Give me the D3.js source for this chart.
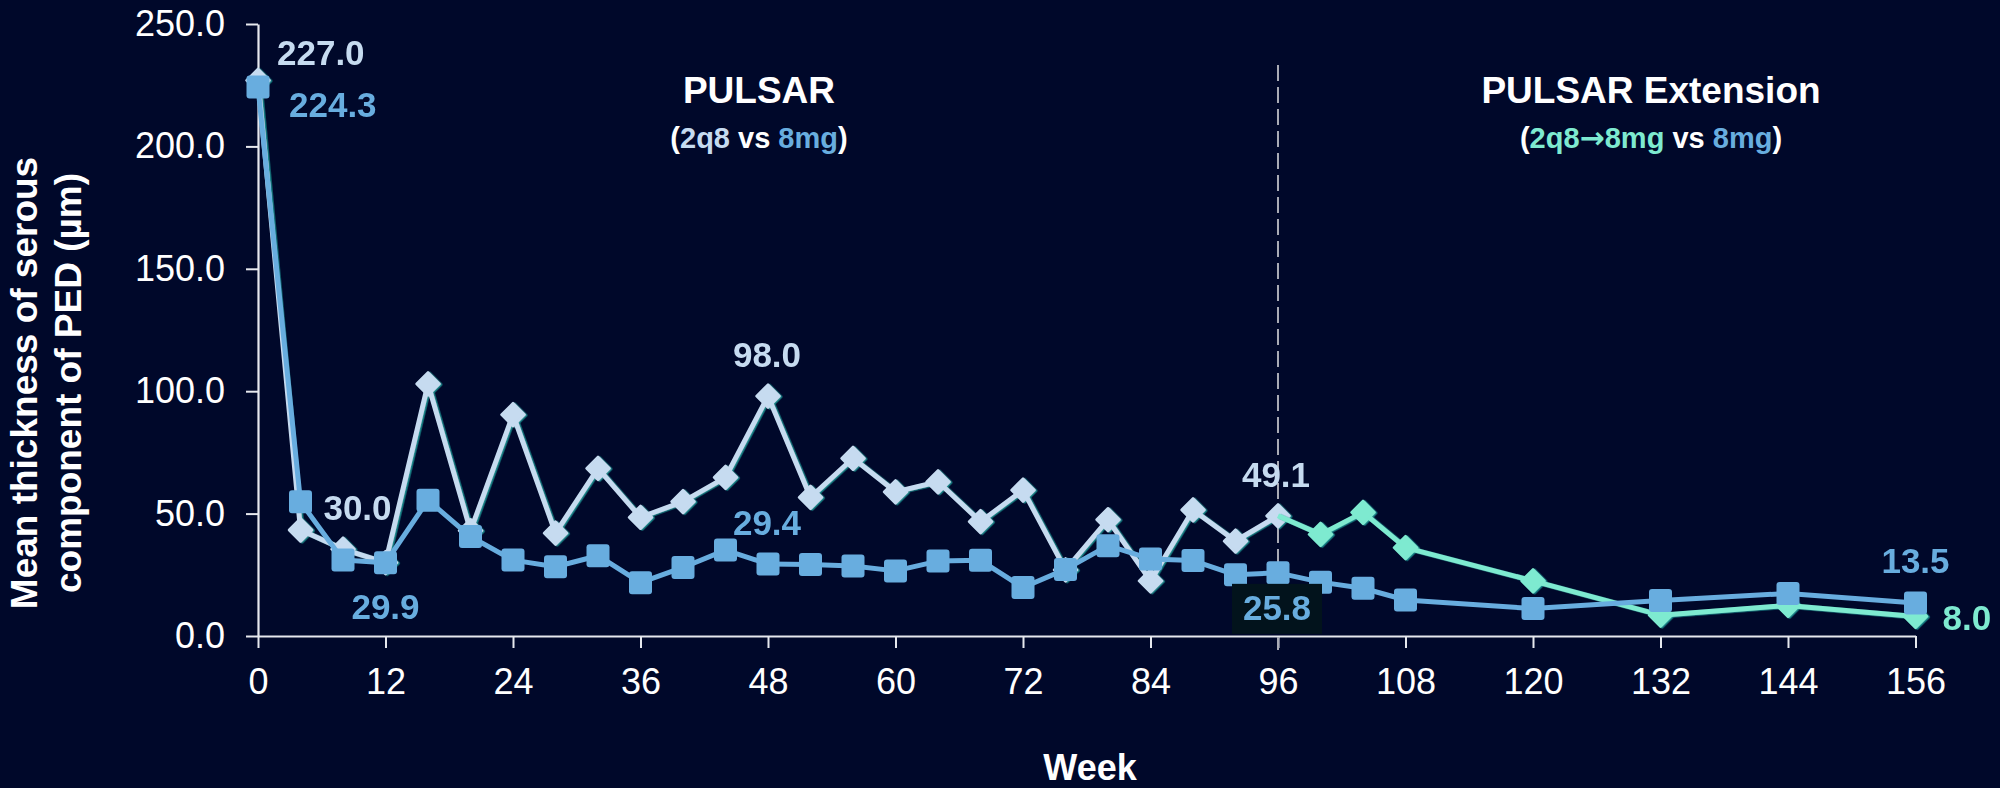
<!DOCTYPE html>
<html>
<head>
<meta charset="utf-8">
<script src="https://cdn.jsdelivr.net/npm/d3@7"></script>
<style>
  html, body { margin: 0; padding: 0; background: #00082a; }
  svg { display: block; font-family: "Liberation Sans", Arial, sans-serif; }
</style>
</head>
<body>
<svg id="chart" width="2000" height="788"></svg>
<script>
// ---------- data ----------
const weeksPulsar = [0,4,8,12,16,20,24,28,32,36,40,44,48,52,56,60,64,68,72,76,80,84,88,92,96];
const q8Values    = [227.0,43.3,35.5,30.0,103.0,43.0,90.4,42.0,68.5,48.5,54.9,64.8,98.0,56.6,72.6,58.9,63.0,46.7,59.6,27.0,47.5,22.5,51.5,38.8,49.1];
const extWeeks    = [96,100,104,108,120,132,144,156];
const extValues   = [49.1,41.5,50.5,36.1,22.5,8.5,12.5,8.0];
const mgWeeks     = [0,4,8,12,16,20,24,28,32,36,40,44,48,52,56,60,64,68,72,76,80,84,88,92,96,100,104,108,120,132,144,156];
const mgValues    = [224.3,54.8,31.0,29.9,55.5,40.6,31.0,28.3,32.8,21.8,28.0,35.1,29.4,29.2,28.6,26.6,30.6,30.9,19.8,27.2,36.9,31.5,30.8,25.0,25.8,22.0,19.5,14.7,11.2,14.5,17.4,13.5];
const xTickValues = [0,12,24,36,48,60,72,84,96,108,120,132,144,156];
const yTickValues = [0,50,100,150,200,250];
const splitWeek   = 96;

// ---------- style ----------
const C = { bg:"#00082a", light:"#c6dbf0", blue:"#68addf", mint:"#7eead0", axis:"#e6e8ee", white:"#ffffff", dash:"#a9abb5" };

const svg = d3.select("#chart");
svg.append("rect").attr("width",2000).attr("height",788).attr("fill",C.bg);

const x = d3.scaleLinear().domain([0,156]).range([258,1915.5]);
const y = d3.scaleLinear().domain([0,250]).range([636,24]);

const defs = svg.append("defs");
const f = defs.append("filter").attr("id","sh").attr("x","-20%").attr("y","-20%").attr("width","140%").attr("height","140%");
f.append("feDropShadow").attr("dx",1.6).attr("dy",0.6).attr("stdDeviation",0.3).attr("flood-color","#1c9f9c").attr("flood-opacity",0.9);

// axes
const yAxis = d3.axisLeft(y).tickValues(yTickValues).tickFormat(d3.format(".1f")).tickSize(12).tickSizeOuter(0).tickPadding(21);
const xAxis = d3.axisBottom(x).tickValues(xTickValues).tickFormat(d3.format("d")).tickSize(12).tickSizeOuter(0).tickPadding(20);

const gy = svg.append("g").attr("transform","translate(258,0)").call(yAxis);
const gx = svg.append("g").attr("transform","translate(0,636)").call(xAxis);
[gy,gx].forEach(g=>{
  g.select(".domain").attr("stroke",C.axis).attr("stroke-width",2.2);
  g.selectAll(".tick line").attr("stroke",C.axis).attr("stroke-width",2);
  g.selectAll(".tick text").attr("fill",C.white).attr("font-size",36).attr("font-family","'Liberation Sans', Arial, sans-serif");
});

// dashed divider
svg.append("line").attr("x1",x(splitWeek)).attr("x2",x(splitWeek)).attr("y1",65).attr("y2",650)
  .attr("stroke",C.dash).attr("stroke-width",2).attr("stroke-dasharray","16,6");

// axis titles
const yt = svg.append("text").attr("transform","translate(37,383) rotate(-90)")
  .attr("text-anchor","middle").attr("font-weight","bold").attr("font-size",37).attr("fill",C.white);
yt.append("tspan").attr("x",0).attr("y",0).text("Mean thickness of serous");
yt.append("tspan").attr("x",0).attr("y",44).text("component of PED (µm)");

svg.append("text").attr("x",1090).attr("y",780).attr("text-anchor","middle")
  .attr("font-weight","bold").attr("font-size",36).attr("fill",C.white).text("Week");

// section titles
function title(cx, main, parts){
  svg.append("text").attr("x",cx).attr("y",103).attr("text-anchor","middle")
    .attr("font-weight","bold").attr("font-size",37).attr("fill",C.white).text(main);
  const t = svg.append("text").attr("x",cx).attr("y",148).attr("text-anchor","middle")
    .attr("font-weight","bold").attr("font-size",29);
  parts.forEach(p=>{
    const s = t.append("tspan").attr("fill",p[1]).text(p[0]);
    if (p[2]) s.attr("font-family","'DejaVu Sans', sans-serif").attr("font-size",30);
  });
}
title(759, "PULSAR", [["(",C.white],["2q8",C.light],[" vs ",C.white],["8mg",C.blue],[")",C.white]]);
title(1651, "PULSAR Extension", [["(",C.white],["2q8",C.mint],["\u2192",C.mint,true],["8mg",C.mint],[" vs ",C.white],["8mg",C.blue],[")",C.white]]);

// series
const line = d3.line().x(d=>x(d[0])).y(d=>y(d[1]));
const q8 = weeksPulsar.map((w,i)=>[w,q8Values[i]]);
const ext = extWeeks.map((w,i)=>[w,extValues[i]]);
const mg = mgWeeks.map((w,i)=>[w,mgValues[i]]);

const diamond = "M0,-11.5L11.5,0L0,11.5L-11.5,0Z";

function drawDiamondSeries(data, color, markerData){
  const g = svg.append("g").attr("filter","url(#sh)");
  g.append("path").datum(data).attr("d",line).attr("fill","none").attr("stroke",color).attr("stroke-width",5).attr("stroke-linejoin","round");
  g.selectAll("path.m").data(markerData).join("path").attr("class","m")
    .attr("transform",d=>`translate(${x(d[0])},${y(d[1])})`).attr("d",diamond)
    .attr("fill",color).attr("stroke",color).attr("stroke-width",2.5).attr("stroke-linejoin","round");
}
drawDiamondSeries(q8, C.light, q8);
drawDiamondSeries(ext, C.mint, ext.slice(1));

const gm = svg.append("g");
gm.append("path").datum(mg).attr("d",line).attr("fill","none").attr("stroke",C.blue).attr("stroke-width",5).attr("stroke-linejoin","round");
gm.selectAll("rect").data(mg).join("rect")
  .attr("x",d=>x(d[0])-11.5).attr("y",d=>y(d[1])-11.5).attr("width",23).attr("height",23).attr("rx",3)
  .attr("fill",C.blue);

// value labels
function label(week, value, color, dx, dy, anchor, box){
  const px = x(week)+dx, py = y(value)+dy;
  if (box) {
    svg.append("rect").attr("x",px-45).attr("y",py-36).attr("width",90).attr("height",50).attr("fill","#02131c");
  }
  svg.append("text").attr("x",px).attr("y",py).attr("text-anchor",anchor)
    .attr("font-weight","bold").attr("font-size",35).attr("fill",color).text(d3.format(".1f")(value));
}
label(0, q8Values[0], C.light, 19, -15, "start");
label(0, mgValues[0], C.blue, 31, 30, "start");
label(12, q8Values[3], C.light, -28, -43, "middle");
label(12, mgValues[3], C.blue, 0, 56, "middle");
label(48, q8Values[12], C.light, -1, -29, "middle");
label(48, mgValues[12], C.blue, -1, -29, "middle");
label(96, q8Values[24], C.light, -2, -29, "middle");
label(96, mgValues[24], C.blue, -1, 47, "middle", true);
label(156, mgValues[31], C.blue, 0, -30, "middle");
label(156, extValues[7], C.mint, 27, 14, "start");
</script>
</body>
</html>
